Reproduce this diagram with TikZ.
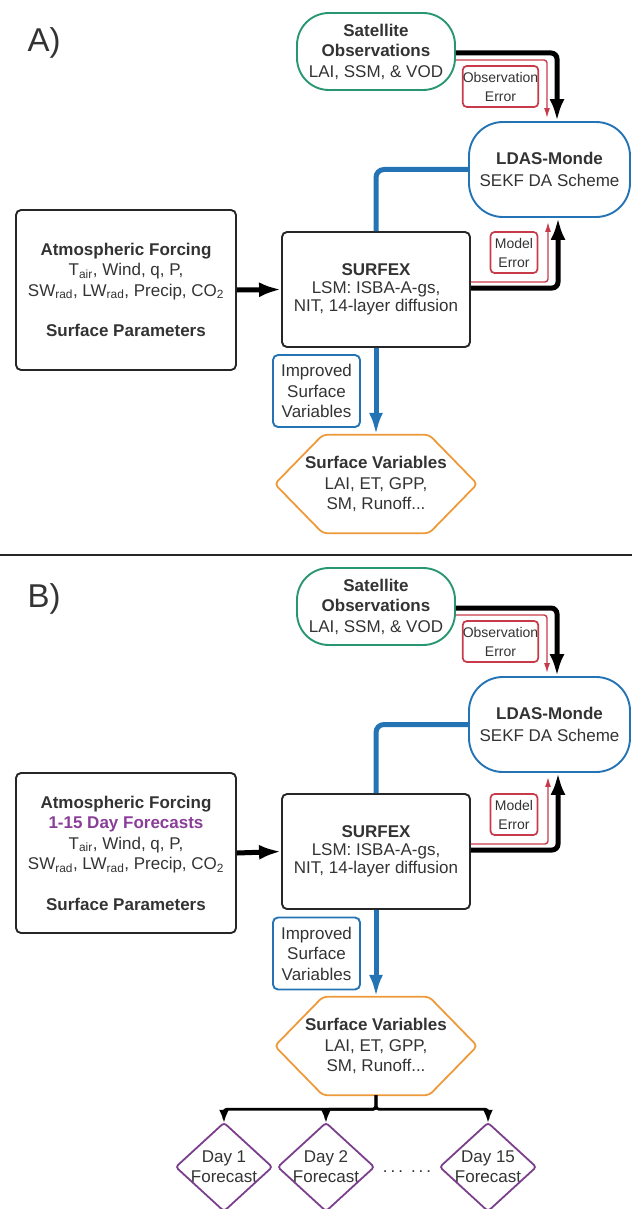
\documentclass[tikz,border=0pt]{standalone}
\usepackage{fontspec}
\setmainfont{Liberation Sans}
\usetikzlibrary{arrows.meta,calc}
\definecolor{tgray}{RGB}{51,51,51}
\definecolor{cgreen}{RGB}{40,150,115}
\definecolor{cblue}{RGB}{36,116,181}
\definecolor{cred}{RGB}{200,58,74}
\definecolor{corange}{RGB}{238,154,58}
\definecolor{cpurple}{RGB}{123,63,140}
\definecolor{ptext}{RGB}{138,62,152}
\begin{document}
\begin{tikzpicture}[x=1pt,y=-1pt,
  txt/.style={font=\fontsize{17}{20.5}\selectfont, text=tgray, align=center, inner sep=0pt},
  smalltxt/.style={font=\fontsize{14}{19}\selectfont, text=tgray, align=center, inner sep=0pt},
  blackbox/.style={txt, draw=black!85, line width=1.9pt, rounded corners=5pt},
  satbox/.style={txt, draw=cgreen, line width=1.9pt, rounded corners=32pt, minimum width=158pt, minimum height=77pt},
  ldasbox/.style={txt, draw=cblue, line width=1.9pt, rounded corners=34pt, minimum width=161pt, minimum height=95pt},
  errbox/.style={smalltxt, draw=cred, line width=1.7pt, rounded corners=4pt},
  impbox/.style={txt, draw=cblue, line width=1.9pt, rounded corners=5pt, minimum width=87pt, minimum height=72pt},
  hexnode/.style={txt, minimum width=202pt, minimum height=98pt},
  hexline/.style={draw=corange, line width=1.8pt, rounded corners=4pt},
  dianode/.style={txt, font=\fontsize{17}{20}\selectfont, minimum width=96pt, minimum height=88pt},
  dialine/.style={draw=cpurple, line width=1.8pt, rounded corners=3pt},
  blk/.style={line width=5pt, black, rounded corners=6pt, -{Latex[length=22pt,width=15pt]}},
  redarr/.style={line width=1.4pt, cred, rounded corners=3pt, -{Latex[length=10pt,width=6pt]}},
  blu/.style={line width=5pt, cblue, rounded corners=8pt},
  bluarr/.style={line width=5pt, cblue, -{Latex[length=22pt,width=14pt]}},
  brk/.style={line width=2.8pt, black, rounded corners=3pt, -{Latex[length=13pt,width=10pt]}},
  panel/.style={font=\fontsize{33}{36}\selectfont, text=tgray, inner sep=0pt}
]
\useasboundingbox (0,0) rectangle (632,1209);

% ================= Panel A =================
\node[panel] (labA) at (44,43) {A)};
\node[satbox] (satA) at (376,51.5) {\textbf{Satellite}\\\textbf{Observations}\\LAI, SSM, \& VOD};
\node[ldasbox] (ldasA) at (549.5,169.5) {\textbf{LDAS-Monde}\\[2pt]SEKF DA Scheme};
\node[errbox, minimum width=75pt, minimum height=41pt] (obsA) at (500.5,86.5) {Observation\\Error};
\node[blackbox, minimum width=220pt, minimum height=160pt] (forcA) at (126,290)
  {\textbf{Atmospheric Forcing}\\T\textsubscript{air}, Wind, q, P,\\SW\textsubscript{rad}, LW\textsubscript{rad}, Precip, CO\textsubscript{2}\\[20pt]\textbf{Surface Parameters}};
\node[blackbox, font=\fontsize{17}{18}\selectfont, minimum width=188pt, minimum height=115pt] (surfA) at (376,289.5)
  {\textbf{SURFEX}\\LSM: ISBA-A-gs,\\NIT, 14-layer diffusion};
\node[errbox, minimum width=47pt, minimum height=41pt] (modA) at (514,252.5) {Model\\Error};
\node[impbox] (impA) at (316.5,391) {Improved\\Surface\\Variables};
\node[hexnode] (svA) at (376,484) {\textbf{Surface Variables}\\LAI, ET, GPP,\\SM, Runoff...};
\draw[hexline] (svA.west) -- ($(svA.north west)+(48,0)$) -- ($(svA.north east)+(-48,0)$) -- (svA.east)
  -- ($(svA.south east)+(-48,0)$) -- ($(svA.south west)+(48,0)$) -- cycle;

\draw[blu] (ldasA.west) -| (surfA.north);
\draw[bluarr] (surfA.south) -- (svA.north);
\draw[blk] (forcA.east) -- (surfA.west);
\draw[blk] ([yshift=-1.5pt]satA.east) -| ([xshift=7.5pt]ldasA.north);
\draw[redarr, shorten >=3pt] ([yshift=-8.5pt]satA.east) -| ([xshift=-2.5pt]ldasA.north);
\draw[blk] ([yshift=1.5pt]surfA.east) -| ([xshift=8.5pt]ldasA.south);
\draw[redarr, shorten >=4pt] ([yshift=7.5pt]surfA.east) -| ([xshift=-1.5pt]ldasA.south);

% separator
\coordinate (sepL) at (0,555);
\coordinate (sepR) at (632,555);
\draw[line width=2pt, black!85] (sepL) -- (sepR);

% ================= Panel B =================
\node[panel] (labB) at (44,599) {B)};
\node[satbox] (satB) at (376,606.5) {\textbf{Satellite}\\\textbf{Observations}\\LAI, SSM, \& VOD};
\node[ldasbox] (ldasB) at (549.5,724.5) {\textbf{LDAS-Monde}\\[2pt]SEKF DA Scheme};
\node[errbox, minimum width=75pt, minimum height=41pt] (obsB) at (500.5,641.5) {Observation\\Error};
\node[blackbox, minimum width=220pt, minimum height=160pt] (forcB) at (126,853)
  {\textbf{Atmospheric Forcing}\\\textcolor{ptext}{\textbf{1-15 Day Forecasts}}\\T\textsubscript{air}, Wind, q, P,\\SW\textsubscript{rad}, LW\textsubscript{rad}, Precip, CO\textsubscript{2}\\[20pt]\textbf{Surface Parameters}};
\node[blackbox, font=\fontsize{17}{18}\selectfont, minimum width=188pt, minimum height=115pt] (surfB) at (376,851.5)
  {\textbf{SURFEX}\\LSM: ISBA-A-gs,\\NIT, 14-layer diffusion};
\node[errbox, minimum width=47pt, minimum height=41pt] (modB) at (514,814.5) {Model\\Error};
\node[impbox] (impB) at (316.5,953.5) {Improved\\Surface\\Variables};
\node[hexnode] (svB) at (376,1046) {\textbf{Surface Variables}\\LAI, ET, GPP,\\SM, Runoff...};
\draw[hexline] (svB.west) -- ($(svB.north west)+(48,0)$) -- ($(svB.north east)+(-48,0)$) -- (svB.east)
  -- ($(svB.south east)+(-48,0)$) -- ($(svB.south west)+(48,0)$) -- cycle;

\draw[blu] (ldasB.west) -| (surfB.north);
\draw[bluarr] (surfB.south) -- (svB.north);
\draw[blk] (forcB.east) -- (surfB.west);
\draw[blk] ([yshift=-1.5pt]satB.east) -| ([xshift=7.5pt]ldasB.north);
\draw[redarr, shorten >=3pt] ([yshift=-8.5pt]satB.east) -| ([xshift=-2.5pt]ldasB.north);
\draw[blk] ([yshift=1.5pt]surfB.east) -| ([xshift=8.5pt]ldasB.south);
\draw[redarr, shorten >=4pt] ([yshift=7.5pt]surfB.east) -| ([xshift=-1.5pt]ldasB.south);

% forecasts
\node[dianode] (d1) at (224,1167) {Day 1\\Forecast};
\node[dianode] (d2) at (326,1167) {Day 2\\Forecast};
\node[dianode] (d15) at (488,1167) {Day 15\\Forecast};
\draw[dialine] (d1.north) -- (d1.east) -- (d1.south) -- (d1.west) -- cycle;
\draw[dialine] (d2.north) -- (d2.east) -- (d2.south) -- (d2.west) -- cycle;
\draw[dialine] (d15.north) -- (d15.east) -- (d15.south) -- (d15.west) -- cycle;
\node[txt] (dots) at (407,1172) {.\kern3pt.\kern3pt.\kern8pt.\kern3pt.\kern3pt.};

\draw[brk] (svB.south) -- ++(0,14) -| (d1.north);
\draw[brk] (svB.south) -- ++(0,14) -| (d2.north);
\draw[brk] (svB.south) -- ++(0,14) -| (d15.north);
\end{tikzpicture}
\end{document}
